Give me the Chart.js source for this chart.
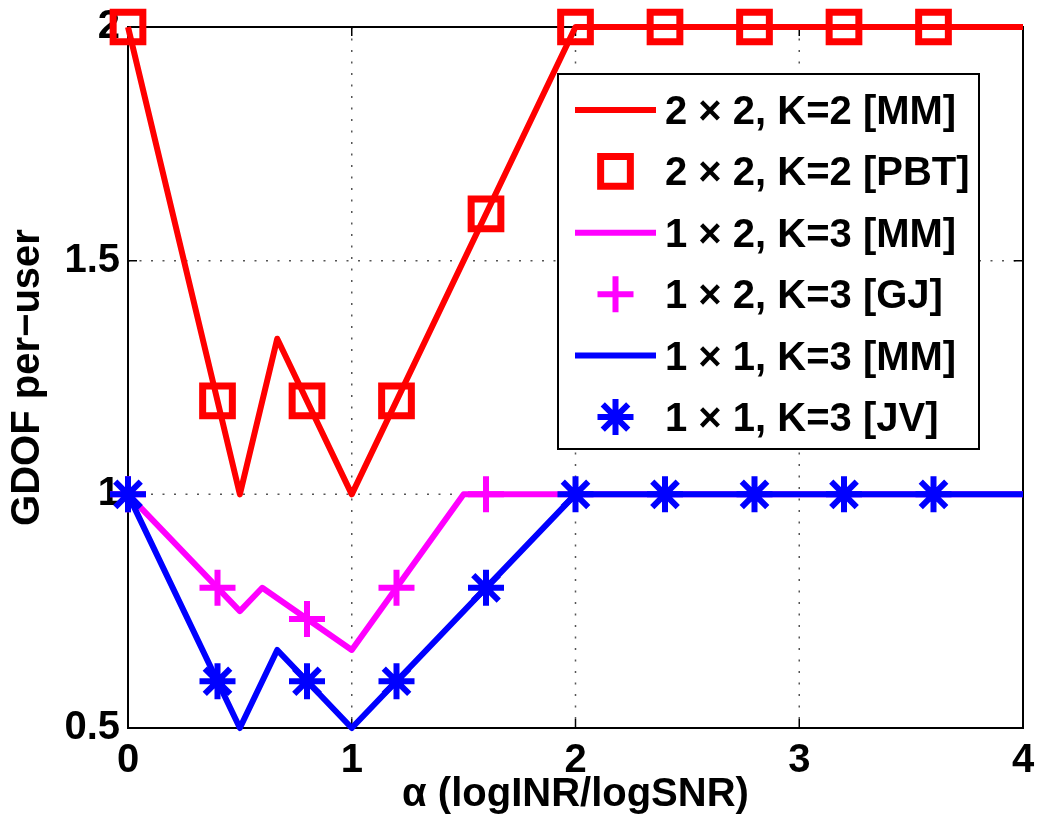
<!DOCTYPE html>
<html>
<head>
<meta charset="utf-8">
<script src="https://cdn.jsdelivr.net/npm/chart.js@4/dist/chart.umd.min.js"></script>
<style>
  html, body { margin: 0; padding: 0; background: #ffffff; }
  #wrap { width: 1039px; height: 825px; }
</style>
</head>
<body>
<div id="wrap"><canvas id="c" width="1039" height="825"></canvas></div>
<script>
// Generalized degrees of freedom per user versus alpha = log INR / log SNR

// 2x2 MIMO, K=2 users
const mm22Alpha = [0, 0.5, 0.667, 1, 2, 4];
const mm22Gdof  = [2, 1, 1.333, 1, 2, 2];
const pbtAlpha  = [0, 0.4, 0.8, 1.2, 1.6, 2, 2.4, 2.8, 3.2, 3.6];
const pbtGdof   = [2, 1.2, 1.2, 1.2, 1.6, 2, 2, 2, 2, 2];

// 1x2 SIMO, K=3 users
const mm12Alpha = [0, 0.5, 0.6, 1, 1.5, 4];
const mm12Gdof  = [1, 0.75, 0.8, 0.667, 1, 1];
const gjAlpha   = [0, 0.4, 0.8, 1.2, 1.6];
const gjGdof    = [1, 0.8, 0.733, 0.8, 1];

// 1x1 SISO, K=3 users
const mm11Alpha = [0, 0.5, 0.667, 1, 2, 4];
const mm11Gdof  = [1, 0.5, 0.667, 0.5, 1, 1];
const jvAlpha   = [0, 0.4, 0.8, 1.2, 1.6, 2, 2.4, 2.8, 3.2, 3.6];
const jvGdof    = [1, 0.6, 0.6, 0.6, 0.8, 1, 1, 1, 1, 1];

const xTicks = [0, 1, 2, 3, 4];
const yTicks = [0.5, 1, 1.5, 2];

const seriesLabels = [
  '2 \u00d7 2, K=2 [MM]',
  '2 \u00d7 2, K=2 [PBT]',
  '1 \u00d7 2, K=3 [MM]',
  '1 \u00d7 2, K=3 [GJ]',
  '1 \u00d7 1, K=3 [MM]',
  '1 \u00d7 1, K=3 [JV]'
];

const RED = '#ff0000', MAGENTA = '#ff00ff', BLUE = '#0000ff';
const FONT = '"Liberation Sans", Arial, Helvetica, sans-serif';

const pts = (xs, ys) => xs.map((v, i) => ({ x: v, y: ys[i] }));

const lineSet = (label, xs, ys, color, order) => ({
  label, data: pts(xs, ys), showLine: true,
  borderColor: color, borderWidth: 6, borderJoinStyle: 'round', borderCapStyle: 'butt',
  pointRadius: 0, pointHoverRadius: 0, tension: 0, clip: false, order
});
const markSet = (label, xs, ys, color, style, radius, width, order) => ({
  label, data: pts(xs, ys), showLine: false,
  pointStyle: style, pointRadius: radius, pointHoverRadius: radius,
  pointBorderColor: color, pointBackgroundColor: 'rgba(0,0,0,0)',
  pointBorderWidth: width, borderColor: color, clip: false, order
});

const datasets = [
  lineSet(seriesLabels[0], mm22Alpha, mm22Gdof, RED, 5),
  markSet(seriesLabels[1], pbtAlpha, pbtGdof, RED, 'rect', 21, 7, 4),
  lineSet(seriesLabels[2], mm12Alpha, mm12Gdof, MAGENTA, 3),
  markSet(seriesLabels[3], gjAlpha, gjGdof, MAGENTA, 'cross', 18, 6, 2),
  lineSet(seriesLabels[4], mm11Alpha, mm11Gdof, BLUE, 1),
  markSet(seriesLabels[5], jvAlpha, jvGdof, BLUE, 'star', 18, 6, 0)
];

// Dotted grid, inward tick marks and the axes box
const axesBox = {
  id: 'axesBox',
  beforeDatasetsDraw(chart) {
    const { ctx, chartArea: a, scales: { x, y } } = chart;
    ctx.save();
    ctx.strokeStyle = '#555';
    ctx.lineWidth = 1.5;
    ctx.setLineDash([2, 9.5]);
    xTicks.slice(1, -1).forEach(v => {
      const px = x.getPixelForValue(v);
      ctx.beginPath(); ctx.moveTo(px, a.top); ctx.lineTo(px, a.bottom); ctx.stroke();
    });
    yTicks.slice(1, -1).forEach(v => {
      const py = y.getPixelForValue(v);
      ctx.beginPath(); ctx.moveTo(a.left, py); ctx.lineTo(a.right, py); ctx.stroke();
    });
    ctx.setLineDash([]);
    ctx.strokeStyle = '#000';
    ctx.lineWidth = 1.5;
    const tl = 9;
    xTicks.forEach(v => {
      const px = x.getPixelForValue(v);
      ctx.beginPath();
      ctx.moveTo(px, a.bottom); ctx.lineTo(px, a.bottom - tl);
      ctx.moveTo(px, a.top); ctx.lineTo(px, a.top + tl);
      ctx.stroke();
    });
    yTicks.forEach(v => {
      const py = y.getPixelForValue(v);
      ctx.beginPath();
      ctx.moveTo(a.left, py); ctx.lineTo(a.left + tl, py);
      ctx.moveTo(a.right, py); ctx.lineTo(a.right - tl, py);
      ctx.stroke();
    });
    ctx.lineWidth = 2;
    ctx.strokeRect(a.left, a.top, a.right - a.left, a.bottom - a.top);
    ctx.restore();
  }
};

// Boxed legend inside the plot area, upper right
const boxLegend = {
  id: 'boxLegend',
  afterDatasetsDraw(chart) {
    const ctx = chart.ctx;
    const bx = 558, by = 74, bw = 421, bh = 375;
    const rowTop = 110, rowStep = 61.4;
    const sx0 = 575, sx1 = 656, textX = 665;
    ctx.save();
    ctx.fillStyle = '#fff';
    ctx.fillRect(bx, by, bw, bh);
    ctx.strokeStyle = '#000';
    ctx.lineWidth = 2;
    ctx.strokeRect(bx, by, bw, bh);
    chart.data.datasets.forEach((ds, i) => {
      const ry = rowTop + i * rowStep;
      if (ds.showLine) {
        ctx.strokeStyle = ds.borderColor;
        ctx.lineWidth = ds.borderWidth;
        ctx.beginPath(); ctx.moveTo(sx0, ry); ctx.lineTo(sx1, ry); ctx.stroke();
      } else {
        const cx = (sx0 + sx1) / 2;
        const r = ds.pointRadius;
        ctx.strokeStyle = ds.pointBorderColor;
        ctx.lineWidth = ds.pointBorderWidth;
        ctx.beginPath();
        if (ds.pointStyle === 'rect') {
          const s = Math.SQRT1_2 * r;
          ctx.rect(cx - s, ry - s, 2 * s, 2 * s);
        } else {
          ctx.moveTo(cx - r, ry); ctx.lineTo(cx + r, ry);
          ctx.moveTo(cx, ry - r); ctx.lineTo(cx, ry + r);
          if (ds.pointStyle === 'star') {
            const d = r * Math.SQRT1_2;
            ctx.moveTo(cx - d, ry - d); ctx.lineTo(cx + d, ry + d);
            ctx.moveTo(cx + d, ry - d); ctx.lineTo(cx - d, ry + d);
          }
        }
        ctx.stroke();
      }
      ctx.fillStyle = '#000';
      ctx.font = 'bold 40px ' + FONT;
      ctx.textAlign = 'left';
      ctx.textBaseline = 'alphabetic';
      ctx.fillText(ds.label, textX, ry + 14);
    });
    ctx.restore();
  }
};

new Chart(document.getElementById('c'), {
  type: 'scatter',
  data: { datasets },
  plugins: [axesBox, boxLegend],
  options: {
    responsive: false,
    animation: false,
    events: [],
    layout: { autoPadding: false, padding: { top: 27, right: 16, left: 0, bottom: 0 } },
    plugins: { legend: { display: false }, tooltip: { enabled: false } },
    scales: {
      x: {
        type: 'linear', min: 0, max: 4,
        afterBuildTicks: s => { s.ticks = xTicks.map(v => ({ value: v })); },
        afterFit: s => { s.height = 97; s.paddingLeft = 0; s.paddingRight = 0; },
        grid: { display: false, drawTicks: false },
        border: { display: false },
        ticks: {
          color: '#000', padding: 9,
          font: { family: FONT, size: 40, weight: 'bold' },
          callback: v => String(v)
        },
        title: {
          display: true, text: '\u03b1 (logINR/logSNR)', color: '#000',
          padding: { top: 0, bottom: 6 },
          font: { family: FONT, size: 40, weight: 'bold' }
        }
      },
      y: {
        type: 'linear', min: 0.5, max: 2,
        afterBuildTicks: s => { s.ticks = yTicks.map(v => ({ value: v })); },
        afterFit: s => { s.width = 128; s.paddingTop = 0; s.paddingBottom = 0; },
        grid: { display: false, drawTicks: false },
        border: { display: false },
        ticks: {
          color: '#000', padding: 8,
          font: { family: FONT, size: 40, weight: 'bold' },
          callback: v => String(v)
        },
        title: {
          display: true, text: 'GDOF per\u2212user', color: '#000',
          padding: { top: 4, bottom: 0 },
          font: { family: FONT, size: 40, weight: 'bold' }
        }
      }
    }
  }
});
</script>
</body>
</html>
